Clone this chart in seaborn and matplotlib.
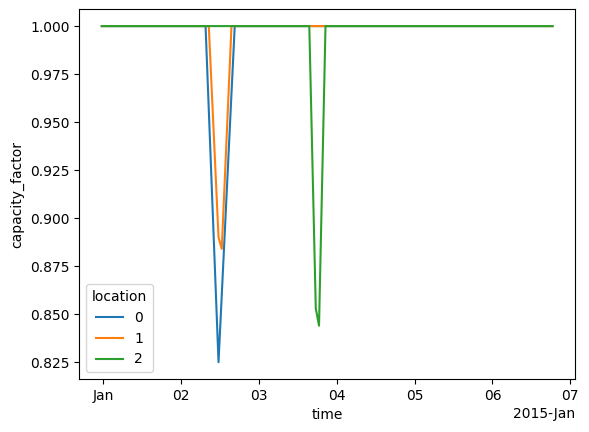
import pandas as pd
import numpy as np
import seaborn as sns
import matplotlib.pyplot as plt
import matplotlib.dates as mdates

# hourly timestamps at half past, Dec 31 23:30 -> Jan 6 18:30
times = pd.date_range("2014-12-31 23:30", periods=140, freq="h")
locations = ["0", "1", "2"]
full_capacity = 1.0

# positions (index into times) where capacity factor dips below 1.0
loc0_hours = [33, 34, 35, 36, 37, 38, 39, 40]
loc0_values = [0.956, 0.912, 0.869, 0.825, 0.86, 0.896, 0.93, 0.965]
loc1_hours = [34, 35, 36, 37, 38, 39]
loc1_values = [0.963, 0.927, 0.890, 0.884, 0.923, 0.961]
loc2_hours = [65, 66, 67, 68]
loc2_values = [0.927, 0.853, 0.844, 0.922]

dips = {
    "0": (loc0_hours, loc0_values),
    "1": (loc1_hours, loc1_values),
    "2": (loc2_hours, loc2_values),
}

frames = []
for loc in locations:
    cf = np.full(len(times), full_capacity)
    hours, vals = dips[loc]
    cf[hours] = vals
    frames.append(pd.DataFrame({"time": times, "location": loc, "capacity_factor": cf}))
df = pd.concat(frames, ignore_index=True)

fig = plt.figure(figsize=(5.89, 4.32), dpi=100)
ax = fig.add_axes([0.1346, 0.1227, 0.9762 - 0.1346, 0.9785 - 0.1227])
sns.lineplot(data=df, x="time", y="capacity_factor", hue="location",
             hue_order=locations, palette="tab10", ax=ax)

locator = mdates.AutoDateLocator()
ax.xaxis.set_major_locator(locator)
ax.xaxis.set_major_formatter(mdates.ConciseDateFormatter(locator))
ax.legend(title="location", loc="lower left")

fig.savefig("out.png", dpi=100)
